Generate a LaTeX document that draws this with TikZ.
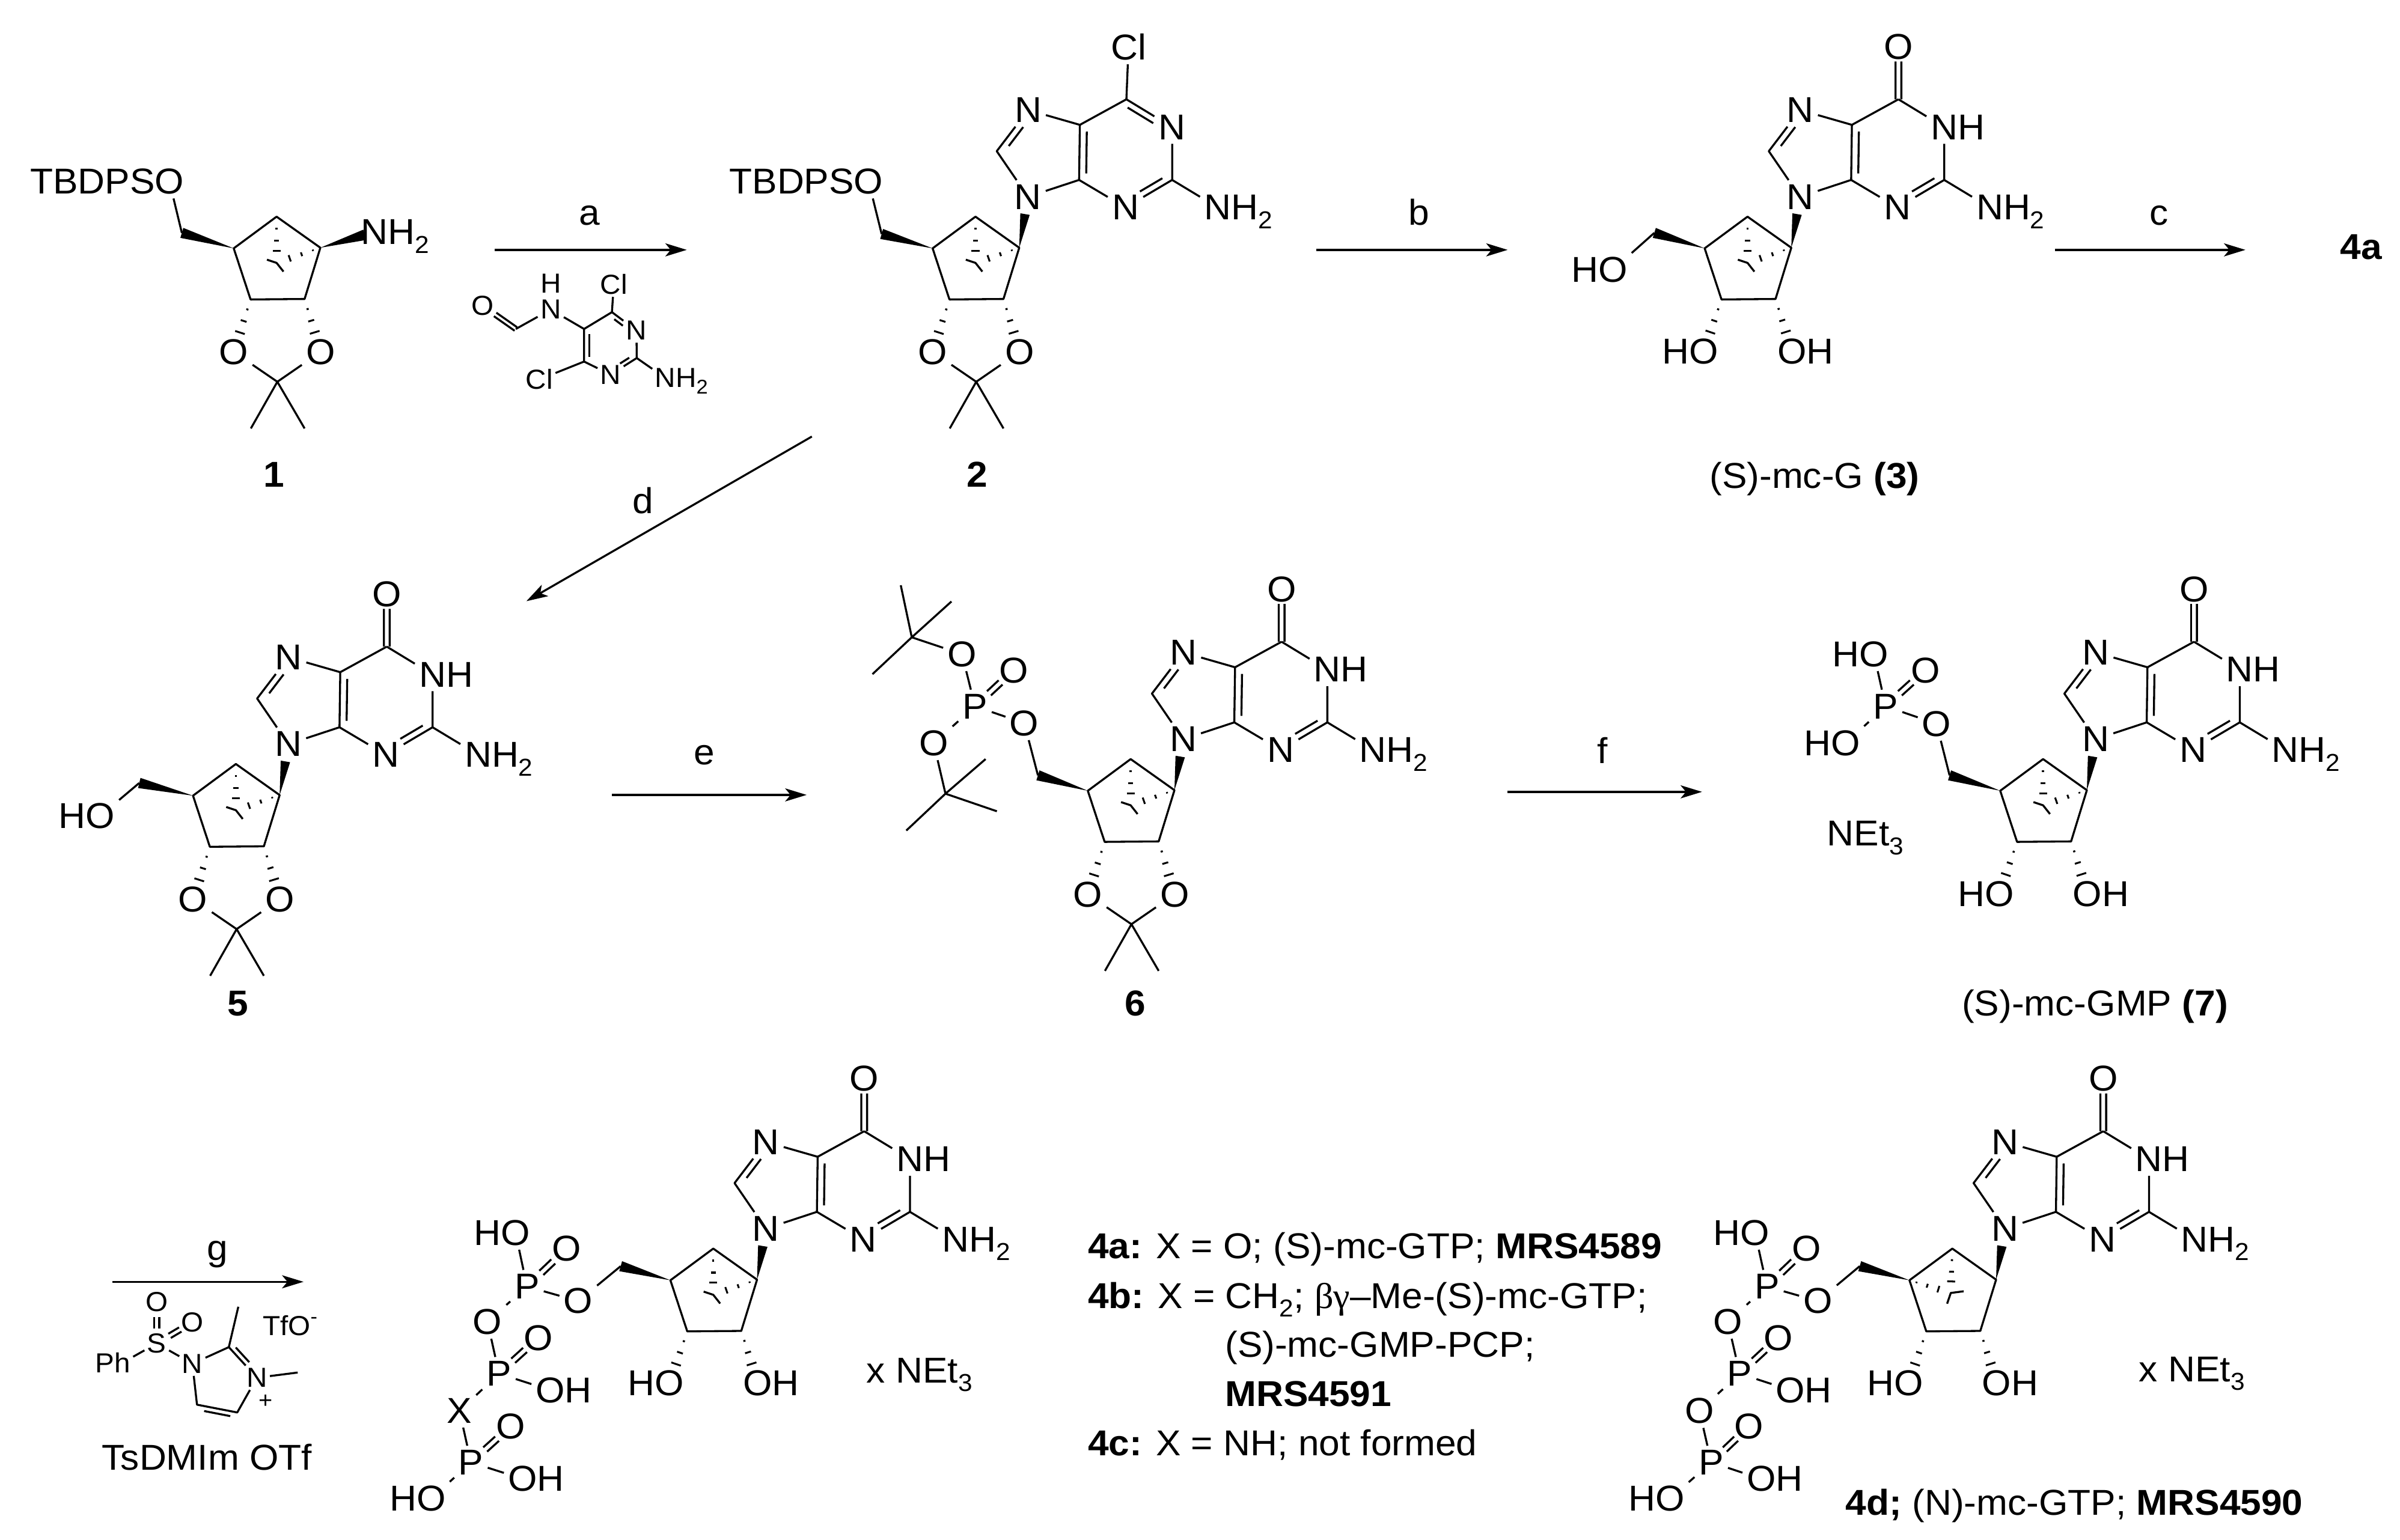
\documentclass[tikz,border=0pt]{standalone}
\usepackage{fontspec}
\setmainfont[FakeStretch=1.04]{Liberation Sans}
\newfontfamily\greekserif[FakeStretch=1.04]{Liberation Serif}
\usetikzlibrary{calc,arrows.meta}
\newcommand\subs[1]{\raisebox{-.24em}{\fontsize{16}{16}\selectfont #1}}
\newcommand\smallsub[1]{\raisebox{-.24em}{\fontsize{13}{13}\selectfont #1}}
\tikzset{
  bond/.style={line width=1.3pt,line join=round,line cap=butt},
  atom/.style={inner sep=2.6pt,font=\fontsize{23.5}{26}\selectfont,text=black},
  satom/.style={inner sep=1.6pt,font=\fontsize{18}{20}\selectfont,text=black},
  txt/.style={inner sep=0pt,anchor=base,font=\fontsize{23.5}{26}\selectfont,text=black},
  txtl/.style={txt,anchor=base west},
  cmpd/.style={txt,font=\fontsize{23.5}{26}\selectfont\bfseries},
  rxn/.style={line width=1.3pt,-{Stealth[length=14pt,width=8.5pt,inset=3.5pt]}}
}
% parallel inner line of a double bond
\newcommand\inbond[6][90]{\draw[bond] ($(#2)!#4!(#3)!#6pt!#1:(#3)$) -- ($(#2)!#5!(#3)!#6pt!#1:(#3)$);}
% symmetric double bond
\newcommand\dbl[5]{\draw[bond] ($(#1)!#3!(#2)!#5pt!90:(#2)$) -- ($(#1)!#4!(#2)!#5pt!90:(#2)$);
  \draw[bond] ($(#1)!#3!(#2)!#5pt!-90:(#2)$) -- ($(#1)!#4!(#2)!#5pt!-90:(#2)$);}
\newcommand\wedgeb[4]{\fill[line join=round] ($(#1)$) -- ($(#1)!#3!(#2)!#4pt!90:(#1)$) -- ($(#1)!#3!(#2)!#4pt!-90:(#1)$) -- cycle;}
\newcommand\hashl[3]{\foreach \ta/\wa in {#3}{\draw[line width=1.2pt] ($(#1)!\ta!(#2)!\wa pt!90:(#2)$) -- ($(#1)!\ta!(#2)!\wa pt!-90:(#2)$);}}
\newcommand\hashO[2]{\hashl{#1}{#2}{.19/.7,.41/2,.63/3.3}}
% carbocycle with C1'-N wedge and CH2 wedge
\newcommand\ringcore[2]{
  \coordinate (ap) at (0,0); \coordinate (r) at (28.6,20.3); \coordinate (br) at (18.3,53.8);
  \coordinate (bl) at (-17,54.1); \coordinate (l) at (-28,20.7); \coordinate (ch2) at (#1,#2);
  \draw[bond] (ap) -- (r) -- (br) -- (bl) -- (l) -- cycle;
  \wedgeb{l}{ch2}{1}{3.4}
}
\newcommand\innerS{
  \coordinate (ya) at (0,30.2); \coordinate (yb) at (-6.3,28.1); \coordinate (yc) at (4.5,35.9);
  \hashl{ap}{ya}{.26/.7,.52/1.6,.74/2.6}
  \hashl{r}{ya}{.17/.5,.43/1.3,.7/2.2}
  \draw[bond] (yb) -- (ya) -- (yc);
}
\newcommand\innerN{
  \coordinate (ya) at (-1,29); \coordinate (yb) at (7.4,27.9); \coordinate (yc) at (-3.4,36);
  \hashl{ap}{ya}{.26/.7,.52/1.6,.74/2.6}
  \hashl{l}{ya}{.17/.5,.43/1.3,.7/2.2}
  \draw[bond] (yb) -- (ya) -- (yc);
}
% purine skeleton common part
\newcommand\purinebase{
  \node[atom] (n9) at (34.3,-13) {N};
  \node[atom] (n7) at (34.4,-69.7) {N};
  \node[atom] (n3) at (98,-6) {N};
  \node[atom] (nh) at (158.3,-6) {N\smash{\rlap{H\subs{2}}}};
  \coordinate (c4) at (67.7,-24); \coordinate (c5) at (68.2,-60);
  \coordinate (c8) at (13.9,-42.8); \coordinate (c6) at (98.6,-76.7); \coordinate (c2) at (128.5,-24);
  \draw[bond] (n9) -- (c4) -- (c5) -- (n7) -- (c8) -- (n9);
  \draw[bond] (c5) -- (c6);
  \draw[bond] (c4) -- (n3) -- (c2) -- (nh);
  \inbond{c5}{c4}{.12}{.88}{4.6}
  \inbond[-90]{c8}{n7}{.22}{.68}{4.2}
  \inbond[-90]{c2}{n3}{.14}{.62}{4.2}
  \wedgeb{r}{n9}{.66}{3.1}
}
\newcommand\guanine{
  \purinebase
  \node[atom] (n1) at (128.5,-58.5) {N\smash{\rlap{H}}};
  \node[atom] (top) at (98.6,-111) {O};
  \draw[bond] (c6) -- (n1) -- (c2);
  \dbl{c6}{top}{0}{.72}{1.9}
}
\newcommand\chloro{
  \purinebase
  \node[atom] (n1) at (128.5,-58.5) {N};
  \node[atom] (top) at (100,-111) {Cl};
  \draw[bond] (c6) -- (n1) -- (c2);
  \draw[bond] (c6) -- (top);
  \inbond[-90]{c6}{n1}{.1}{.66}{4.2}
}
\newcommand\acetonide{
  \node[atom] (ol) at (-28,88.4) {O}; \node[atom] (or) at (28.8,88.4) {O};
  \coordinate (cq) at (0.5,107.9); \coordinate (m1) at (-16.8,138.4); \coordinate (m2) at (18.3,138.4);
  \draw[bond] (ol) -- (cq) -- (or); \draw[bond] (m1) -- (cq) -- (m2);
  \hashO{bl}{ol} \hashO{br}{or}
}
\newcommand\diol{
  \node[atom] (ol) at (-28.6,88) {\llap{H}O}; \node[atom] (or) at (29,88) {O\rlap{H}};
  \hashO{bl}{ol} \hashO{br}{or}
}
\begin{document}
\begin{tikzpicture}[x=1pt,y=-1pt]
\useasboundingbox (0,0) rectangle (1568,1006.1);

% ---------- compound 1
\begin{scope}[shift={(180.7,141.6)},name prefix=c1-]
  \ringcore{-61.9}{10.6}
  \innerS \acetonide
  \node[atom] (oa) at (-70,-23) {\llap{TBDPS}O};
  \node[atom] (nh) at (64,10) {N\smash{\rlap{H\subs{2}}}};
  \draw[bond] (ch2) -- (oa);
  \wedgeb{r}{nh}{.82}{3.5}
\end{scope}
\node[cmpd] (lab1) at (179,318.3) {1};

% reagent a
\begin{scope}[name prefix=ra-]
  \node[satom] (o) at (315.2,199.7) {O};
  \node[satom] (h) at (359.8,185.2) {H};
  \node[satom] (n) at (359.8,202.3) {N};
  \node[satom] (cl1) at (401,185.6) {Cl};
  \node[satom] (n1) at (415.8,216) {N};
  \node[satom] (n3) at (398.9,244.8) {N};
  \node[satom] (cl2) at (352.3,248) {Cl};
  \node[satom] (nh) at (434.7,247) {N\smash{\rlap{H\smallsub{2}}}};
  \coordinate (cho) at (337,215); \coordinate (c5) at (381.6,215);
  \coordinate (c4) at (399.8,204); \coordinate (c2) at (416,234); \coordinate (c6) at (381.6,236.3);
  \draw[bond] (cho) -- (n) -- (c5) -- (c4) -- (n1) -- (c2) -- (n3) -- (c6) -- (c5);
  \draw[bond] (c4) -- (cl1); \draw[bond] (c6) -- (cl2); \draw[bond] (c2) -- (nh);
  \dbl{cho}{o}{0}{.62}{1.4}
  \inbond[90]{c5}{c6}{.15}{.85}{3.3}
  \inbond[-90]{c4}{n1}{.2}{.55}{2.8}
  \inbond[-90]{c2}{n3}{.2}{.55}{2.8}
\end{scope}

% arrow a
\coordinate (aS) at (323.3,163.3); \coordinate (aE) at (448.7,163.3);
\draw[rxn] (aS) -- (aE);
\node[txt] (la) at (385,147) {a};

% ---------- compound 2
\begin{scope}[shift={(637.3,141.6)},name prefix=c2-]
  \ringcore{-61.3}{11.3}
  \innerS \acetonide \chloro
  \node[atom] (oa) at (-69.8,-23) {\llap{TBDPS}O};
  \draw[bond] (ch2) -- (oa);
\end{scope}
\node[cmpd] (lab2) at (638.6,318.3) {2};

% arrow b
\coordinate (bS) at (860,163.3); \coordinate (bE) at (985,163.3);
\draw[rxn] (bS) -- (bE);
\node[txt] (lb) at (927,147) {b};

% ---------- compound 3
\begin{scope}[shift={(1141.7,141.6)},name prefix=c3-]
  \ringcore{-60.9}{10.6}
  \innerS \diol \guanine
  \node[atom] (oa) at (-88,34.7) {\llap{H}O};
  \draw[bond] (ch2) -- (oa);
\end{scope}
\node[txt] (lab3) at (1185.5,319) {(S)-mc-G \textbf{(3)}};

% arrow c
\coordinate (cS) at (1342.5,163.3); \coordinate (cE) at (1467,163.3);
\draw[rxn] (cS) -- (cE);
\node[txt] (lc) at (1410.6,147) {c};
\node[cmpd] (l4a) at (1542.5,169.3) {4a};

% arrow d
\coordinate (dS) at (530.4,285.3); \coordinate (dE) at (343.9,392.9);
\draw[rxn] (dS) -- (dE);
\node[txt] (ld) at (420,335.5) {d};

% ---------- compound 5
\begin{scope}[shift={(154.1,499.3)},name prefix=c5-]
  \ringcore{-63.1}{12.4}
  \innerS \acetonide \guanine
  \node[atom] (oa) at (-88.6,33.9) {\llap{H}O};
  \draw[bond] (ch2) -- (oa);
\end{scope}
\node[cmpd] (lab5) at (155.3,664) {5};

% arrow e
\coordinate (eS) at (399.7,519.5); \coordinate (eE) at (527,519.5);
\draw[rxn] (eS) -- (eE);
\node[txt] (le) at (460,499.5) {e};

% ---------- compound 6
\begin{scope}[shift={(738.7,496.1)},name prefix=c6-]
  \ringcore{-60.6}{10.6}
  \innerS \acetonide \guanine
\end{scope}
\begin{scope}[name prefix=p6-]
  \node[atom] (oe) at (669.2,472.6) {O};
  \node[atom] (p) at (637,461.6) {P};
  \node[atom] (oq) at (662.3,438) {O};
  \node[atom] (o1) at (628.5,427.5) {O};
  \node[atom] (o2) at (610,485.7) {O};
  \coordinate (t1) at (595.7,416.5); \coordinate (m1) at (588.5,382.5);
  \coordinate (m2) at (621.6,393.1); \coordinate (m3) at (570,440.6);
  \coordinate (t2) at (617.7,518.7); \coordinate (m4) at (643.9,496.1);
  \coordinate (m5) at (651.3,530.2); \coordinate (m6) at (592.1,542.8);
  \draw[bond] (c6-ch2) -- (oe); \draw[bond] (oe) -- (p); \draw[bond] (p) -- (o1); \draw[bond] (p) -- (o2);
  \dbl{p}{oq}{.36}{.66}{1.9}
  \draw[bond] (o1) -- (t1); \draw[bond] (t1) -- (m1); \draw[bond] (t1) -- (m2); \draw[bond] (t1) -- (m3);
  \draw[bond] (o2) -- (t2); \draw[bond] (t2) -- (m4); \draw[bond] (t2) -- (m5); \draw[bond] (t2) -- (m6);
\end{scope}
\node[cmpd] (lab6) at (741.7,664) {6};

% arrow f
\coordinate (fS) at (985,517.5); \coordinate (fE) at (1112,517.5);
\draw[rxn] (fS) -- (fE);
\node[txt] (lf) at (1047,499) {f};

% ---------- compound 7
\begin{scope}[shift={(1334.8,496.1)},name prefix=c7-]
  \ringcore{-61.1}{10.6}
  \innerS \diol \guanine
\end{scope}
\begin{scope}[name prefix=p7-]
  \node[atom] (oe) at (1265.2,473) {O};
  \node[atom] (p) at (1231.9,461.6) {P};
  \node[atom] (oq) at (1257.9,438) {O};
  \node[atom] (o1) at (1224.3,427.5) {\llap{H}O};
  \node[atom] (o2) at (1205.9,485.7) {\llap{H}O};
  \draw[bond] (c7-ch2) -- (oe); \draw[bond] (oe) -- (p); \draw[bond] (p) -- (o1); \draw[bond] (p) -- (o2);
  \dbl{p}{oq}{.36}{.66}{1.9}
\end{scope}
\node[txtl] (net7) at (1193.5,552.8) {NEt\subs{3}};
\node[txt] (lab7) at (1368.7,664) {(S)-mc-GMP \textbf{(7)}};

% arrow g and reagent
\coordinate (gS) at (73.6,837.7); \coordinate (gE) at (198.3,837.7);
\draw[rxn] (gS) -- (gE);
\node[txt] (lg) at (142,823.5) {g};
\begin{scope}[name prefix=rg-]
  \node[satom] (o1) at (102.4,851) {O};
  \node[satom] (s) at (102.4,878) {S};
  \node[satom] (o2) at (125.7,864.2) {O};
  \node[satom] (ph) at (80,890.6) {\llap{P}h};
  \node[satom] (n1) at (125.7,891.2) {N};
  \node[satom] (n2) at (167.8,900.4) {N};
  \node[inner sep=0pt,font=\fontsize{15}{15}\selectfont] (plus) at (173.5,916) {+};
  \coordinate (c2) at (149.5,880.4); \coordinate (me1) at (155.7,854); \coordinate (me2) at (194.5,897);
  \coordinate (c5) at (155,923.1); \coordinate (c4) at (128.7,918);
  \draw[bond] (ph) -- (s); \draw[bond] (s) -- (n1); \draw[bond] (n1) -- (c2) -- (me1);
  \draw[bond] (c2) -- (n2) -- (me2); \draw[bond] (n2) -- (c5) -- (c4) -- (n1);
  \dbl{s}{o1}{.36}{.64}{1.6}
  \dbl{s}{o2}{.36}{.66}{1.6}
  \inbond[90]{c2}{n2}{.12}{.6}{3.2}
  \inbond[90]{c5}{c4}{.15}{.8}{3.2}
\end{scope}
\node[satom,inner sep=0pt] (tfo) at (189.5,866.2) {TfO\raisebox{.42em}{\fontsize{13}{13}\selectfont -}};
\node[txt] (tsd) at (135.2,960.8) {TsDMIm OTf};

% ---------- compound 4
\begin{scope}[shift={(466,816)},name prefix=c4-]
  \ringcore{-60.5}{11.5}
  \innerS \diol \guanine
\end{scope}
\begin{scope}[name prefix=p4-]
  \node[atom] (oe) at (377.8,850.3) {O};
  \node[atom] (p1) at (344.3,840.8) {P};
  \node[atom] (ho1) at (336.8,805.6) {\llap{H}O};
  \node[atom] (oq1) at (370.3,816) {O};
  \node[atom] (ob) at (318.5,863.8) {O};
  \node[atom] (p2) at (326,897.7) {P};
  \node[atom] (oq2) at (351.8,874.3) {O};
  \node[atom] (oh2) at (359.5,908.5) {O\rlap{H}};
  \node[atom] (x) at (300.2,922.1) {X};
  \node[atom] (p3) at (307.7,955.7) {P};
  \node[atom] (oq3) at (333.5,932.3) {O};
  \node[atom] (oh3) at (341.5,966.5) {O\rlap{H}};
  \node[atom] (ho3) at (281.7,979.5) {\llap{H}O};
  \draw[bond] (c4-ch2) -- (oe); \draw[bond] (oe) -- (p1); \draw[bond] (p1) -- (ho1);
  \draw[bond] (p1) -- (ob); \draw[bond] (ob) -- (p2); \draw[bond] (p2) -- (oh2);
  \draw[bond] (p2) -- (x); \draw[bond] (x) -- (p3); \draw[bond] (p3) -- (oh3); \draw[bond] (p3) -- (ho3);
  \dbl{p1}{oq1}{.36}{.66}{1.9}
  \dbl{p2}{oq2}{.36}{.66}{1.9}
  \dbl{p3}{oq3}{.36}{.66}{1.9}
\end{scope}
\node[txtl] (net4) at (566,903.8) {x NEt\subs{3}};

% ---------- description block
\node[txtl] (t1) at (710.6,822.3) {\textbf{4a:} X = O; (S)-mc-GTP; \textbf{MRS4589}};
\node[txtl] (t2) at (710.6,855) {\textbf{4b:} X = CH\subs{2}; {\greekserif βγ}–Me-(S)-mc-GTP;};
\node[txtl] (t3) at (800.2,887) {(S)-mc-GMP-PCP;};
\node[txtl] (t4) at (800.2,919) {\textbf{MRS4591}};
\node[txtl] (t5) at (710.6,951.3) {\textbf{4c:} X = NH; not formed};

% ---------- compound 4d
\begin{scope}[shift={(1275.5,816)},name prefix=c8-]
  \ringcore{-60.5}{11.5}
  \innerN \diol \guanine
\end{scope}
\begin{scope}[name prefix=p8-]
  \node[atom] (oe) at (1187.7,850.3) {O};
  \node[atom] (p1) at (1154.4,840.8) {P};
  \node[atom] (ho1) at (1146.6,805.6) {\llap{H}O};
  \node[atom] (oq1) at (1180.3,816) {O};
  \node[atom] (ob) at (1128.8,863.8) {O};
  \node[atom] (p2) at (1136.6,897.7) {P};
  \node[atom] (oq2) at (1161.8,874.3) {O};
  \node[atom] (oh2) at (1169.7,908.5) {O\rlap{H}};
  \node[atom] (oc) at (1110.3,922.1) {O};
  \node[atom] (p3) at (1118,955.7) {P};
  \node[atom] (oq3) at (1142.6,932.3) {O};
  \node[atom] (oh3) at (1150.7,966.5) {O\rlap{H}};
  \node[atom] (ho3) at (1091,979.5) {\llap{H}O};
  \draw[bond] (c8-ch2) -- (oe); \draw[bond] (oe) -- (p1); \draw[bond] (p1) -- (ho1);
  \draw[bond] (p1) -- (ob); \draw[bond] (ob) -- (p2); \draw[bond] (p2) -- (oh2);
  \draw[bond] (p2) -- (oc); \draw[bond] (oc) -- (p3); \draw[bond] (p3) -- (oh3); \draw[bond] (p3) -- (ho3);
  \dbl{p1}{oq1}{.36}{.66}{1.9}
  \dbl{p2}{oq2}{.36}{.66}{1.9}
  \dbl{p3}{oq3}{.36}{.66}{1.9}
\end{scope}
\node[txtl] (net8) at (1397.3,902.8) {x NEt\subs{3}};
\node[txt] (lab8) at (1355.2,990.3) {\textbf{4d;} (N)-mc-GTP; \textbf{MRS4590}};
\end{tikzpicture}
\end{document}
